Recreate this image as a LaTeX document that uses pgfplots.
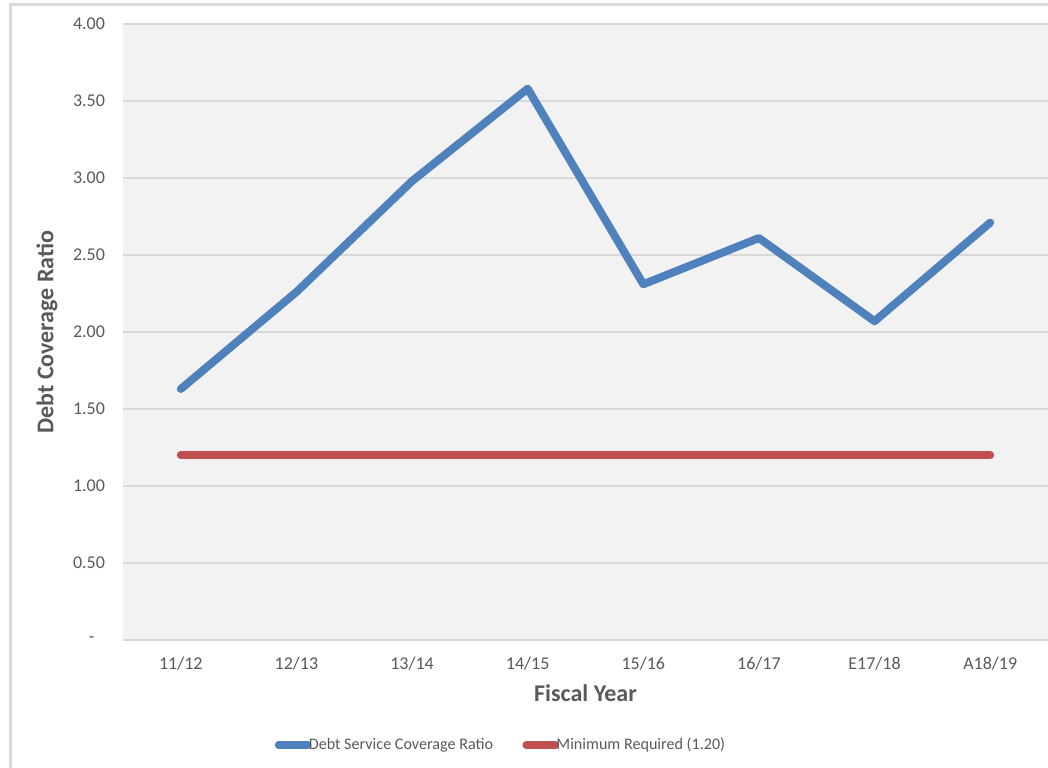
\documentclass[border=0pt]{standalone}
\usepackage{fontspec}
\setmainfont{Carlito}
\usepackage{pgfplots}
\pgfplotsset{compat=1.18}
\definecolor{dsblue}{HTML}{4F81BD}
\definecolor{dsred}{HTML}{C0504D}
\definecolor{bgray}{HTML}{F2F2F2}
\definecolor{gline}{HTML}{D9D9D9}
\definecolor{txt}{HTML}{595959}
\begin{document}
\begin{tikzpicture}
\begin{axis}[
  scale only axis,
  width=693.75pt, height=462pt,
  xmin=-0.5, xmax=7.5, ymin=0, ymax=4,
  xtick={0,...,7},
  xticklabels={11/12,12/13,13/14,14/15,15/16,16/17,E17/18,A18/19},
  ytick={0,0.5,1,1.5,2,2.5,3,3.5,4},
  yticklabels={{-\rule{8pt}{0pt}},0.50,1.00,1.50,2.00,2.50,3.00,3.50,4.00},
  major tick length=0pt,
  axis line style={draw=none},
  ymajorgrids, grid style={gline, line width=0.9pt},
  axis background/.style={fill=bgray},
  tick label style={font=\fontsize{13.5}{16}\selectfont, text=txt},
  yticklabel style={xshift=-10pt},
  xticklabel style={yshift=-9.5pt},
  xlabel={Fiscal Year}, ylabel={Debt Coverage Ratio},
  xlabel style={font=\fontsize{18}{21}\selectfont\bfseries, text=txt, at={(axis description cs:0.5,0)}, anchor=center, yshift=-39.75pt},
  ylabel style={font=\fontsize{18}{21}\selectfont\bfseries, text=txt, at={(axis description cs:0,0.5)}, anchor=center, yshift=57pt},
  legend columns=2,
  legend style={draw=none, fill=none, at={(axis description cs:0.409,0)}, anchor=center, yshift=-78.75pt, font=\fontsize{12.1}{15}\selectfont, text=txt, /tikz/every even column/.append style={column sep=20pt}},
  legend image code/.code={\draw[#1, line width=5.5pt, line cap=round] (0pt,0pt) -- (22pt,0pt);},
  legend cell align=left,
]
\coordinate (bl) at (rel axis cs:0,0);
\coordinate (tr) at (rel axis cs:1,1);
\addplot[dsblue, line width=6pt, line cap=round, line join=round] coordinates {
(0,1.63) (1,2.26) (2,2.98) (3,3.58) (4,2.31) (5,2.61) (6,2.07) (7,2.71)};
\addlegendentry{\hspace{-4pt}Debt Service Coverage Ratio}
\addplot[dsred, line width=6pt, line cap=round] coordinates {
(0,1.20) (1,1.20) (2,1.20) (3,1.20) (4,1.20) (5,1.20) (6,1.20) (7,1.20)};
\addlegendentry{\hspace{-4pt}Minimum Required (1.20)}
\end{axis}
\draw[gline, line width=2.25pt] ([shift={(-84.4pt,-120pt)}]bl) -- ([shift={(-84.4pt,0pt)}]bl |- tr) -- ++(0pt,15.375pt);
\draw[gline, line width=2.25pt] ([shift={(-85.5pt,14.25pt)}]bl |- tr) -- ([shift={(20pt,14.25pt)}]tr);
\pgfresetboundingbox
\path[use as bounding box] ([shift={(-92.25pt,-95.25pt)}]bl) rectangle ([shift={(0pt,18pt)}]tr);
\end{tikzpicture}
\end{document}
